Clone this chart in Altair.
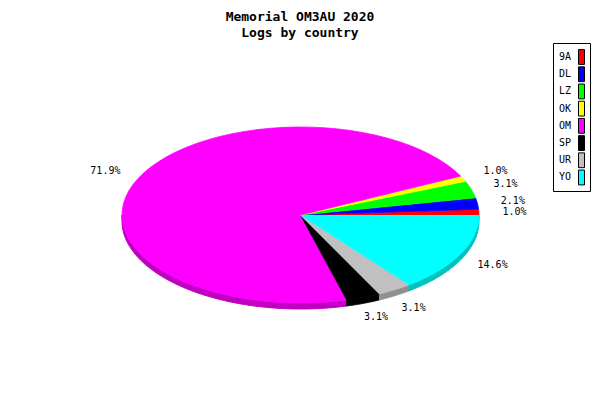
import altair as alt
import pandas as pd

countries = ["9A", "DL", "LZ", "OK", "OM", "SP", "UR", "YO"]
logs = [1, 2, 3, 1, 69, 3, 3, 14]
top_colors = ["#ff0000", "#0000ff", "#00ff00", "#ffff00", "#ff00ff", "#000000", "#c0c0c0", "#00ffff"]
side_colors = ["#c00000", "#0000c0", "#00c000", "#c0c000", "#c000c0", "#000000", "#909090", "#00c0c0"]
title_lines = ["Memorial OM3AU 2020", "Logs by country"]

df = pd.DataFrame({
    "country": countries,
    "logs": logs,
    "order": list(range(len(countries))),
    "top": top_colors,
    "side": side_colors,
})

MONO = "DejaVu Sans Mono"
DEPTH = 6.0 / 88.0

xs = alt.Scale(domain=[-1, 1], range=[114, 471])
ys = alt.Scale(domain=[-1, 1], range=[287, 111])

base = (
    alt.Chart(df)
    .transform_joinaggregate(total="sum(logs)")
    .transform_window(cum="sum(logs)", sort=[alt.SortField("order")], frame=[None, 0])
    .transform_calculate(
        a0="2*PI*(datum.cum - datum.logs)/datum.total",
        a1="2*PI*datum.cum/datum.total",
    )
)

sides = (
    base.transform_calculate(b0="max(datum.a0, PI)", b1="max(datum.a1, PI)")
    .transform_filter("datum.b1 > datum.b0")
    .transform_calculate(steps="sequence(0, 61)")
    .transform_flatten(["steps"], as_=["step"])
    .transform_calculate(
        ang="datum.b0 + (datum.b1 - datum.b0)*datum.step/60",
    )
    .transform_calculate(px="cos(datum.ang)", py="sin(datum.ang)")
    .transform_calculate(py2="datum.py - " + str(DEPTH))
    .mark_area(strokeWidth=1)
    .encode(
        x=alt.X("px:Q", scale=xs, axis=None),
        y=alt.Y("py:Q", scale=ys, axis=None),
        y2="py2:Q",
        detail="country:N",
        fill=alt.Fill("side:N", scale=None),
        stroke=alt.Stroke("side:N", scale=None),
    )
)

tops = (
    base.transform_calculate(steps="sequence(0, 62)")
    .transform_flatten(["steps"], as_=["step"])
    .transform_calculate(ang="datum.a0 + (datum.a1 - datum.a0)*(datum.step - 1)/60")
    .transform_calculate(
        px="datum.step == 0 ? 0 : cos(datum.ang)",
        py="datum.step == 0 ? 0 : sin(datum.ang)",
    )
    .mark_line(strokeWidth=0.8)
    .encode(
        x=alt.X("px:Q", scale=xs, axis=None),
        y=alt.Y("py:Q", scale=ys, axis=None),
        order="step:Q",
        detail="country:N",
        fill=alt.Fill("top:N", scale=None),
        stroke=alt.Stroke("top:N", scale=None),
    )
)

labels = (
    base.transform_calculate(mid="(datum.a0 + datum.a1)/2")
    .transform_calculate(
        lx="1.2*cos(datum.mid)",
        ly="1.2*sin(datum.mid) - (sin(datum.mid) < 0 ? 0.04 : 0)",
        pct="format(datum.logs/datum.total*100, '.1f') + '%'",
    )
    .mark_text(font=MONO, fontSize=10, align="center", baseline="middle", color="black")
    .encode(
        x=alt.X("lx:Q", scale=xs, axis=None),
        y=alt.Y("ly:Q", scale=ys, axis=None),
        text="pct:N",
    )
)

leg_scale = alt.Scale(type="band", domain=countries, range=[32.4, 170.1], paddingInner=0.14, paddingOuter=0.07)

legend_box = (
    alt.Chart(pd.DataFrame({"k": [0]}))
    .mark_rect(fill="white", stroke="black", strokeWidth=1)
    .encode(x=alt.value(545.5), x2=alt.value(582.5), y=alt.value(27.5), y2=alt.value(175.5))
)

legend_text = (
    alt.Chart(df)
    .mark_text(font=MONO, fontSize=10, align="left", baseline="middle", color="black")
    .encode(
        x=alt.value(551),
        y=alt.Y("country:N", scale=leg_scale, axis=None),
        text="country:N",
    )
)

legend_swatch = (
    alt.Chart(df)
    .mark_rect(stroke="black", strokeWidth=1)
    .encode(
        x=alt.value(570.5),
        x2=alt.value(576.5),
        y=alt.Y("country:N", scale=leg_scale, axis=None),
        fill=alt.Fill("top:N", scale=None),
    )
)

title = (
    alt.Chart(pd.DataFrame({"line": title_lines, "i": [0, 1]}))
    .mark_text(font=MONO, fontSize=13, fontWeight="bold", align="center", baseline="alphabetic", color="black")
    .encode(
        x=alt.value(292),
        y=alt.Y("i:O", scale=alt.Scale(type="point", domain=[0, 1], range=[4.5, 21], padding=0), axis=None),
        text="line:N",
    )
)

chart = (
    alt.layer(sides, tops, labels, legend_box, legend_text, legend_swatch, title)
    .resolve_scale(x="independent", y="independent")
    .properties(
        width=584,
        height=376,
        autosize=alt.AutoSizeParams(type="none"),
        padding={"left": 0, "top": 8, "right": 0, "bottom": 0},
        background="white",
    )
    .configure_view(stroke=None)
)

chart.save("out.html", embed_options={"renderer": "svg", "actions": False})
